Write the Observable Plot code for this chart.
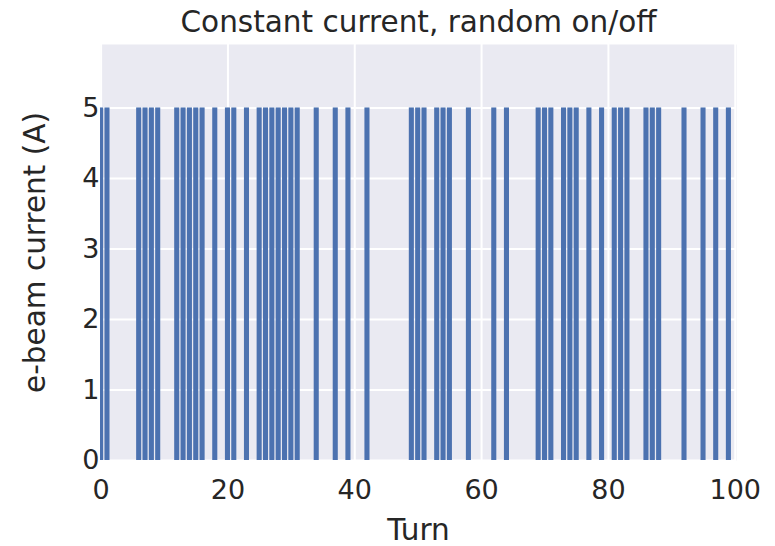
<!DOCTYPE html>
<html>
<head>
<meta charset="utf-8">
<script src="https://cdn.jsdelivr.net/npm/d3@7"></script>
<script src="https://cdn.jsdelivr.net/npm/@observablehq/plot@0.6"></script>
<style>
  html, body { margin: 0; padding: 0; background: #ffffff; }
  #chart svg { display: block; font-family: "DejaVu Sans", sans-serif; }
</style>
</head>
<body>
<div id="chart"></div>
<script>
// Turns where the e-beam is on
const onTurns = [0, 1, 6, 7, 8, 9, 12, 13, 14, 15, 16, 18, 20, 21, 23, 25, 26, 27, 28, 29, 30, 31,
  34, 37, 39, 42, 49, 50, 51, 53, 54, 55, 58, 62, 64, 69, 70, 71, 73, 74, 75, 77, 79,
  81, 82, 83, 86, 87, 88, 92, 95, 97, 99];
// Current (A) at each of those turns
const currents = [5, 5, 5, 5, 5, 5, 5, 5, 5, 5, 5, 5, 5, 5, 5, 5, 5, 5, 5, 5, 5, 5,
  5, 5, 5, 5, 5, 5, 5, 5, 5, 5, 5, 5, 5, 5, 5, 5, 5, 5, 5, 5, 5,
  5, 5, 5, 5, 5, 5, 5, 5, 5, 5];
const xTicks = [0, 20, 40, 60, 80, 100];
const yTicks = [0, 1, 2, 3, 4, 5];
const titleText = "Constant current, random on/off";
const xLabel = "Turn";
const yLabel = "e-beam current (A)";

const data = onTurns.map((t, i) => ({turn: t, current: currents[i]}));
const ink = "#262626";

const chart = Plot.plot({
  width: 775,
  height: 546,
  marginLeft: 100,
  marginRight: 39,
  marginTop: 44,
  marginBottom: 86,
  style: {fontFamily: "DejaVu Sans, sans-serif", color: ink, background: "#ffffff"},
  x: {domain: [-0.1, 100.2]},
  y: {domain: [0, 5.9]},
  marks: [
    Plot.frame({fill: "#EAEAF2", stroke: null}),
    Plot.gridX(xTicks, {stroke: "#ffffff", strokeOpacity: 1, strokeWidth: 2}),
    Plot.gridY(yTicks, {stroke: "#ffffff", strokeOpacity: 1, strokeWidth: 2}),
    Plot.rectY(data, {x1: d => d.turn - 0.4, x2: d => d.turn + 0.4, y: "current", fill: "#4C72B0", clip: true}),
    Plot.axisX(xTicks, {tickSize: 0, tickPadding: 19, fontSize: 27, fill: ink, label: null, tickFormat: d3.format("d")}),
    Plot.axisY(yTicks, {tickSize: 0, tickPadding: 1, fontSize: 27, fill: ink, label: null, tickFormat: d3.format("d")}),
    Plot.text([titleText], {frameAnchor: "top", dy: -13, fontSize: 29.5, fill: ink, lineAnchor: "bottom"}),
    Plot.text([xLabel], {frameAnchor: "bottom", dy: 79, fontSize: 29.5, fill: ink, lineAnchor: "bottom"}),
    Plot.text([yLabel], {frameAnchor: "left", dx: -65, rotate: -90, fontSize: 29.5, fill: ink, textAnchor: "middle", lineAnchor: "middle"})
  ]
});
document.getElementById("chart").append(chart);
</script>
</body>
</html>
